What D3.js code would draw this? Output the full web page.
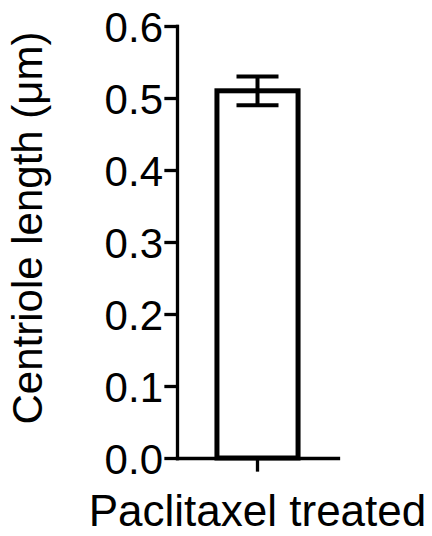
<!DOCTYPE html>
<html>
<head>
<meta charset="utf-8">
<script src="https://cdn.jsdelivr.net/npm/d3@7"></script>
<style>
  body { margin: 0; background: #fff; }
  svg text { font-family: "Liberation Sans", Arial, sans-serif; fill: #000; }
</style>
</head>
<body>
<svg width="432" height="536"></svg>
<script>
// chart data
const categories = ["Paclitaxel treated"];
const means = [0.51];
const errors = [0.02];
const yTicks = [0, 0.1, 0.2, 0.3, 0.4, 0.5, 0.6];
const yLabel = "Centriole length (\u03bcm)";

function drawChart() {
    let svg = d3.select("svg");

    // scales
    let y = d3.scaleLinear().domain([0, 0.6]).range([458, 26]);
    let x = d3.scaleBand().domain(categories).range([177, 338]).paddingInner(0.33).paddingOuter(0.33);

    // bars
    svg.append("g").selectAll("rect")
        .data(categories)
        .join("rect")
        .attr("x", d => x(d))
        .attr("width", x.bandwidth())
        .attr("y", (d, i) => y(means[i]))
        .attr("height", (d, i) => y(0) - y(means[i]))
        .style("fill", "#fff")
        .style("stroke", "#000")
        .style("stroke-width", 5);

    // error bars
    let eb = svg.append("g").selectAll("g")
        .data(categories)
        .join("g")
        .style("stroke", "#000")
        .style("stroke-width", 4);
    let cap = 21;
    eb.append("line")
        .attr("x1", d => x(d) + x.bandwidth() / 2)
        .attr("x2", d => x(d) + x.bandwidth() / 2)
        .attr("y1", (d, i) => y(means[i] + errors[i]))
        .attr("y2", (d, i) => y(means[i] - errors[i]));
    eb.append("line")
        .attr("x1", d => x(d) + x.bandwidth() / 2 - cap)
        .attr("x2", d => x(d) + x.bandwidth() / 2 + cap)
        .attr("y1", (d, i) => y(means[i] + errors[i]))
        .attr("y2", (d, i) => y(means[i] + errors[i]));
    eb.append("line")
        .attr("x1", d => x(d) + x.bandwidth() / 2 - cap)
        .attr("x2", d => x(d) + x.bandwidth() / 2 + cap)
        .attr("y1", (d, i) => y(means[i] - errors[i]))
        .attr("y2", (d, i) => y(means[i] - errors[i]));

    // y axis
    let yAxis = svg.append("g")
        .attr("transform", "translate(177,0)")
        .call(d3.axisLeft(y).tickValues(yTicks).tickFormat(d3.format(".1f")).tickSize(11).tickSizeOuter(0).tickPadding(3));

    // x axis
    let xAxis = svg.append("g")
        .attr("transform", "translate(0,458)")
        .call(d3.axisBottom(x).tickSize(12).tickSizeOuter(0).tickPadding(25));

    svg.selectAll(".domain, .tick line")
        .style("stroke", "#000")
        .style("stroke-width", 3.3)
        .style("stroke-linecap", "square");
    svg.selectAll(".tick text")
        .style("font-size", "42px")
        .style("font-family", "'Liberation Sans', Arial, sans-serif")
        .style("fill", "#000");
    yAxis.selectAll(".tick text").attr("dy", "0.36em");
    xAxis.selectAll(".tick text").attr("dy", "0.71em").style("font-size", "44px");

    // y axis title
    svg.append("text")
        .attr("transform", "translate(42,228) rotate(-90)")
        .attr("text-anchor", "middle")
        .style("font-size", "42px")
        .text(yLabel);
}
drawChart();
</script>
</body>
</html>
